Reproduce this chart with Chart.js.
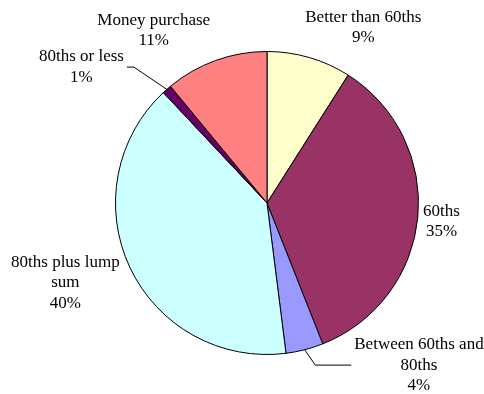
<!DOCTYPE html>
<html>
<head>
<meta charset="utf-8">
<script src="https://cdn.jsdelivr.net/npm/chart.js@4/dist/chart.umd.min.js"></script>
<style>
  html, body { margin: 0; padding: 0; background: #fff; }
  #wrap { width: 484px; height: 394px; }
</style>
</head>
<body>
<div id="wrap"><canvas id="pensionChart" width="484" height="394"></canvas></div>
<script>
// pension scheme types, clockwise from 12 o'clock
const categories = ['Better than 60ths', '60ths', 'Between 60ths and 80ths', '80ths plus lump sum', '80ths or less', 'Money purchase'];
const shares = [9, 35, 4, 40, 1, 11];
const sliceColors = ['#FFFFCC', '#993366', '#9999FF', '#CCFFFF', '#660066', '#FF8080'];

// how each label is broken into lines
const labelLines = [
    ['Better than 60ths'],
    ['60ths'],
    ['Between 60ths and', '80ths'],
    ['80ths plus lump', 'sum'],
    ['80ths or less'],
    ['Money purchase']
];

// label block centre, relative to pie centre, in units of radius
const labelOffsets = [
    [0.636, -1.159],
    [1.152, 0.122],
    [1.003, 1.070],
    [-1.331, 0.526],
    [-1.225, -0.897],
    [-0.748, -1.139]
];

const FONT = '17px "Liberation Serif", "Times New Roman", serif';
const LINE_H = 20.5;

const pieLabels = {
    id: 'pieLabels',
    afterDatasetsDraw(chart) {
        const ctx = chart.ctx;
        const arcs = chart.getDatasetMeta(0).data;
        ctx.save();
        ctx.font = FONT;
        ctx.fillStyle = '#000';
        ctx.strokeStyle = '#000';
        ctx.lineWidth = 1;
        ctx.textAlign = 'center';
        ctx.textBaseline = 'middle';
        arcs.forEach((arc, i) => {
            const r = arc.outerRadius;
            const lines = labelLines[i].concat([shares[i] + '%']);
            const cx = arc.x + labelOffsets[i][0] * r;
            const cy = arc.y + labelOffsets[i][1] * r;
            const top = cy - (lines.length - 1) * LINE_H / 2;
            lines.forEach((t, k) => ctx.fillText(t, cx, top + k * LINE_H));

            // small slices get a leader line back to the arc edge
            if (shares[i] < 5) {
                const mid = (arc.startAngle + arc.endAngle) / 2;
                const px = arc.x + Math.cos(mid) * r;
                const py = arc.y + Math.sin(mid) * r;
                const w = Math.max(...lines.map(t => ctx.measureText(t).width));
                const side = cx > arc.x ? -1 : 1;
                const ex = cx + side * (w / 2 + 3);
                const elbow = ex + side * (cx > arc.x ? 36 : 7);
                ctx.beginPath();
                ctx.moveTo(ex, cy);
                ctx.lineTo(elbow, cy);
                ctx.lineTo(px, py);
                ctx.stroke();
            }
        });
        ctx.restore();
    }
};

new Chart(document.getElementById('pensionChart'), {
    type: 'pie',
    data: {
        labels: categories,
        datasets: [{
            data: shares,
            backgroundColor: sliceColors,
            borderColor: '#000',
            borderWidth: 1,
            hoverOffset: 0
        }]
    },
    options: {
        responsive: false,
        animation: false,
        events: [],
        layout: { padding: { top: 51, bottom: 39, left: 115, right: 65 } },
        plugins: {
            legend: { display: false },
            tooltip: { enabled: false }
        }
    },
    plugins: [pieLabels]
});
</script>
</body>
</html>
